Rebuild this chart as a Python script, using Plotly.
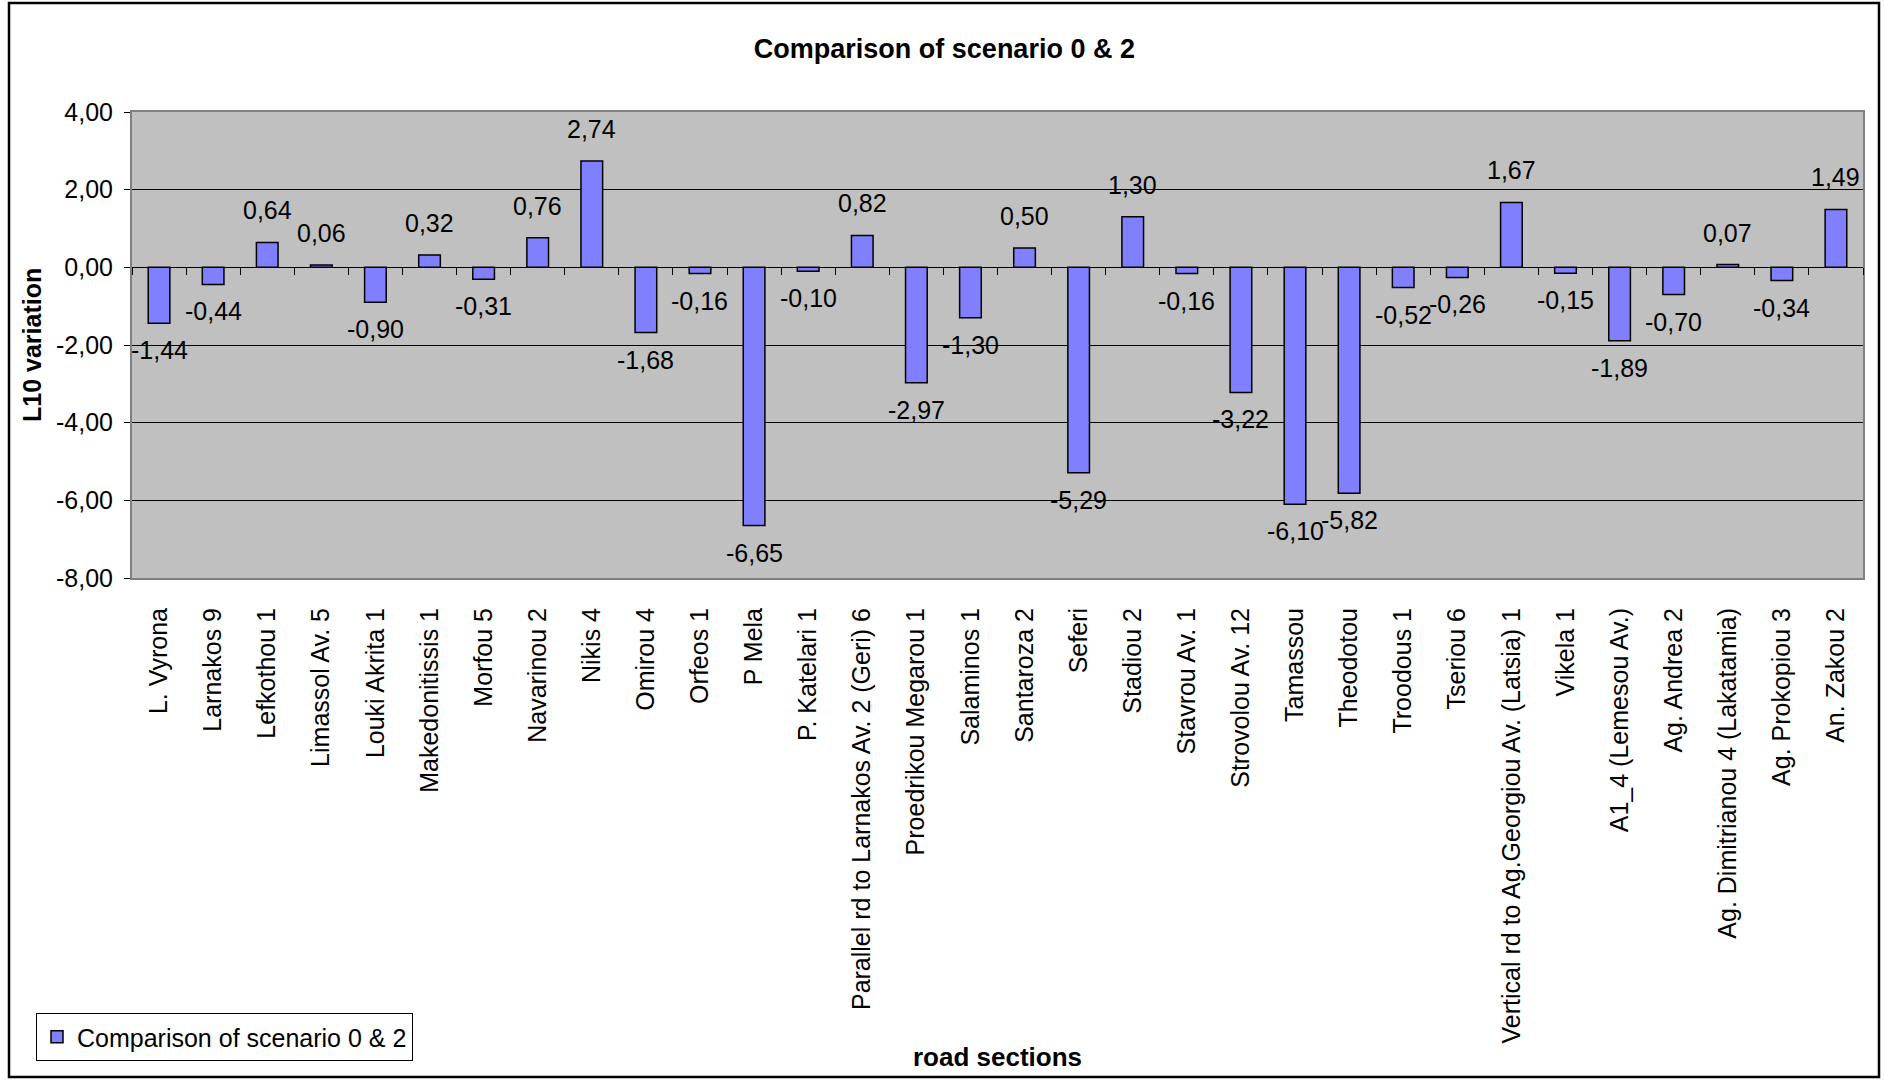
import plotly.graph_objects as go

categories = [
    "L. Vyrona", "Larnakos 9", "Lefkothou 1", "Limassol Av. 5", "Louki Akrita 1",
    "Makedonitissis 1", "Morfou 5", "Navarinou 2", "Nikis 4", "Omirou 4",
    "Orfeos 1", "P Mela", "P. Katelari 1", "Parallel rd to Larnakos Av. 2 (Geri) 6",
    "Proedrikou Megarou 1", "Salaminos 1", "Santaroza 2", "Seferi", "Stadiou 2",
    "Stavrou Av. 1", "Strovolou Av. 12", "Tamassou", "Theodotou", "Troodous 1",
    "Tseriou 6", "Vertical rd to Ag.Georgiou Av. (Latsia) 1", "Vikela 1",
    "A1_4 (Lemesou Av.)", "Ag. Andrea 2", "Ag. Dimitrianou 4 (Lakatamia)",
    "Ag. Prokopiou 3", "An. Zakou 2",
]
values = [
    -1.44, -0.44, 0.64, 0.06, -0.90, 0.32, -0.31, 0.76, 2.74, -1.68,
    -0.16, -6.65, -0.10, 0.82, -2.97, -1.30, 0.50, -5.29, 1.30, -0.16,
    -3.22, -6.10, -5.82, -0.52, -0.26, 1.67, -0.15, -1.89, -0.70, 0.07,
    -0.34, 1.49,
]
y_ticks = [4, 2, 0, -2, -4, -6, -8]
y_tick_labels = ["4,00", "2,00", "0,00", "-2,00", "-4,00", "-6,00", "-8,00"]

FONT = "Liberation Sans, Arial, sans-serif"
FS = 25
W, H = 1885, 1080
ML, MR, MT, MB = 132, 22, 112, 502
pw, ph = W - ML - MR, H - MT - MB

def px_x(p):
    return (p - ML) / pw

def px_y(p):
    return (H - MB - p) / ph

fig = go.Figure()
fig.add_trace(go.Bar(
    x=categories, y=values, name="Comparison of scenario 0 & 2",
    marker=dict(color="#8080FF", line=dict(color="black", width=1.5)),
    width=0.4, hoverinfo="x+y",
))
# helper trace for the category axis crossing at zero
fig.add_trace(go.Scatter(
    x=categories, y=values, xaxis="x2", mode="lines",
    line=dict(width=0, color="rgba(0,0,0,0)"), showlegend=False, hoverinfo="skip",
))

annotations = []
for c, v in zip(categories, values):
    annotations.append(dict(
        x=c, y=v, xref="x", yref="y", text=f"{v:.2f}".replace(".", ","),
        showarrow=False, yanchor="middle", xanchor="center",
        yshift=32 if v >= 0 else -27,
        font=dict(family=FONT, size=FS, color="black"),
    ))
annotations.append(dict(
    x=px_x(32), y=0.5, xref="paper", yref="paper", text="<b>L10 variation</b>",
    textangle=-90, showarrow=False, xanchor="center", yanchor="middle",
    font=dict(family=FONT, size=25, color="black"),
))
annotations.append(dict(
    x=0.5, y=px_y(1057), xref="paper", yref="paper", text="<b>road sections</b>",
    showarrow=False, xanchor="center", yanchor="middle",
    font=dict(family=FONT, size=26, color="black"),
))

zero_pos = (0 - (-8)) / (4 - (-8))

fig.update_layout(
    width=W, height=H,
    margin=dict(l=ML, r=MR, t=MT, b=MB),
    paper_bgcolor="white", plot_bgcolor="#C0C0C0",
    separators=",.",
    font=dict(family=FONT, size=FS, color="black"),
    title=dict(text="<b>Comparison of scenario 0 & 2</b>", x=0.501, xref="container",
               y=1 - 49 / H, yref="container", xanchor="center", yanchor="middle",
               font=dict(family=FONT, size=27, color="black")),
    showlegend=True,
    legend=dict(x=px_x(36), y=px_y(1013), xanchor="left", yanchor="top",
                bordercolor="black", borderwidth=1, bgcolor="white",
                font=dict(family=FONT, size=FS, color="black")),
    xaxis=dict(type="category", categoryorder="array", categoryarray=categories,
               tickangle=-90, showgrid=False, showline=True, mirror=True,
               linecolor="#808080", linewidth=2, ticks="", ticklabelstandoff=18,
               tickfont=dict(family=FONT, size=FS, color="black"),
               range=[-0.5, len(categories) - 0.5], zeroline=False),
    xaxis2=dict(type="category", categoryorder="array", categoryarray=categories,
                overlaying="x", anchor="free", position=zero_pos, side="bottom",
                showline=True, linecolor="black", linewidth=1.3,
                ticks="outside", tickson="boundaries", ticklen=7, tickcolor="black",
                showticklabels=False, showgrid=False, zeroline=False,
                range=[-0.5, len(categories) - 0.5]),
    yaxis=dict(range=[-8, 4], tickvals=y_ticks, ticktext=y_tick_labels,
               showgrid=True, gridcolor="black", gridwidth=1,
               showline=True, mirror=True, linecolor="#808080", linewidth=2,
               ticks="outside", ticklen=6, tickcolor="black", ticklabelstandoff=6,
               zeroline=True, zerolinecolor="black", zerolinewidth=1.3,
               tickfont=dict(family=FONT, size=FS, color="black")),
    annotations=annotations,
    shapes=[dict(type="rect", xref="paper", yref="paper",
                 x0=px_x(9), x1=px_x(1879), y0=px_y(1077), y1=px_y(3),
                 line=dict(color="black", width=2.5), fillcolor="rgba(0,0,0,0)",
                 layer="above")],
    bargap=0.6,
)

fig.write_html("out.html")
